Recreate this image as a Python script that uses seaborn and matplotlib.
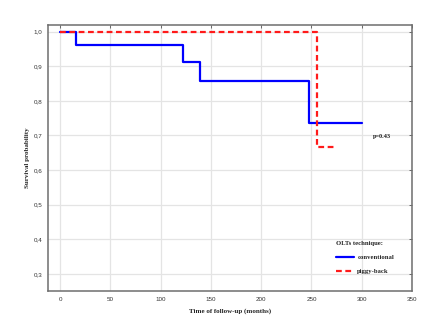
import numpy as np
import pandas as pd
import matplotlib
matplotlib.use("Agg")
import matplotlib.pyplot as plt
import seaborn as sns
from matplotlib.lines import Line2D

# Data
conv_time = [0, 16, 122, 139, 248, 300]
conv_surv = [1.0, 0.96, 0.913, 0.857, 0.735, 0.735]
pb_time = [0, 256, 273]
pb_surv = [1.0, 0.667, 0.667]
groups = ["conventional", "piggy-back"]
x_ticks = [0, 50, 100, 150, 200, 250, 300, 350]
y_ticks = [0.3, 0.4, 0.5, 0.6, 0.7, 0.8, 0.9, 1.0]

df = pd.DataFrame({
    "time": conv_time + pb_time,
    "surv": conv_surv + pb_surv,
    "group": [groups[0]] * len(conv_time) + [groups[1]] * len(pb_time),
})

sns.set_style("white")
fig = plt.figure(figsize=(4.39, 3.34), dpi=100)
ax = fig.add_axes([48 / 439, 1 - 291 / 334, (412 - 48) / 439, (291 - 25) / 334])

sns.lineplot(data=df, x="time", y="surv", hue="group", style="group",
             palette={groups[0]: "#0000ff", groups[1]: "#ff1a1a"},
             dashes={groups[0]: "", groups[1]: (2.6, 1.6)},
             drawstyle="steps-post", linewidth=1.6, ax=ax, legend=False,
             estimator=None, sort=False)

ax.set_xlim(-12, 350)
ax.set_ylim(0.251, 1.019)
ax.set_xticks(x_ticks)
ax.set_yticks(y_ticks)
ax.set_xticklabels([str(v) for v in x_ticks])
ax.set_yticklabels([f"{v:.1f}".replace(".", ",") for v in y_ticks])
for lab in ax.get_xticklabels() + ax.get_yticklabels():
    lab.set_fontfamily("Liberation Sans")
    lab.set_fontsize(4.5)
    lab.set_color("#333333")
ax.grid(True, color="#e4e4e4", linewidth=0.9)
ax.tick_params(axis="both", which="both", direction="in", length=2, width=0.6,
               color="#555555", top=True, right=True, pad=4)
for s in ax.spines.values():
    s.set_color("#6e6e6e")
    s.set_linewidth(1.1)

ax.set_xlabel("Time of follow-up (months)", fontsize=5, family="Liberation Serif",
              fontweight="bold", labelpad=5)
ax.set_ylabel("Survival probability", fontsize=5, family="Liberation Serif",
              fontweight="bold", labelpad=3)

ax.text(311, 0.696, "p=0.43", fontsize=4.5, family="Liberation Serif",
        fontweight="bold", va="center", ha="left", color="#222222")

handles = [Line2D([], [], color="#0000ff", lw=1.6),
           Line2D([], [], color="#ff1a1a", lw=1.6, dashes=(2.6, 1.6))]
leg = ax.legend(handles, groups, title="OLTs technique:", loc="lower left",
                bbox_to_anchor=(0.775, 0.04), frameon=False,
                prop={"family": "Liberation Serif", "weight": "bold", "size": 4.8},
                handlelength=2.7, handletextpad=0.5, labelspacing=1.25)
leg.get_title().set_fontfamily("Liberation Serif")
leg.get_title().set_fontweight("bold")
leg.get_title().set_fontsize(4.8)
leg._legend_box.align = "left"

fig.savefig("out.png", dpi=100)
